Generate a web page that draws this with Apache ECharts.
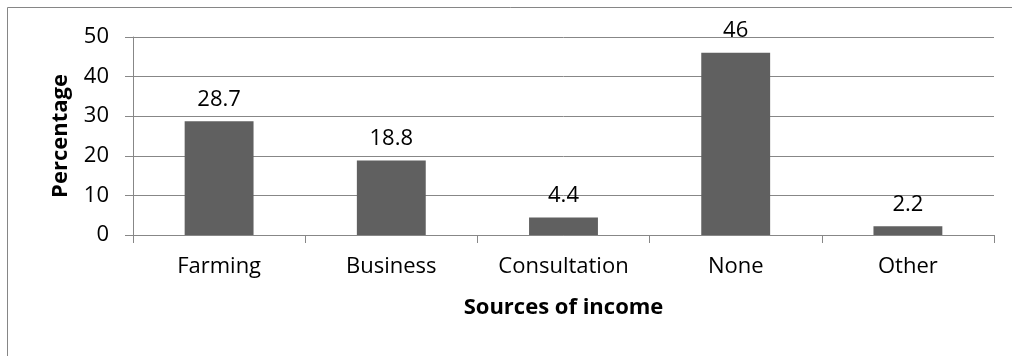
<!DOCTYPE html>
<html>
<head>
<meta charset="utf-8">
<script src="https://cdn.jsdelivr.net/npm/echarts@6/dist/echarts.min.js"></script>
<style>
  html, body { margin: 0; padding: 0; background: #fff; }
  #chart { width: 1012px; height: 356px; }
</style>
</head>
<body>
<div id="chart"></div>
<script>
var categories = ['Farming', 'Business', 'Consultation', 'None', 'Other'];
var percentages = [28.7, 18.8, 4.4, 46, 2.2];
var yTicks = { min: 0, max: 50, interval: 10 };

var font = '"Open Sans", "Liberation Sans", sans-serif';
var gridColor = '#878787';
var barColor = '#606060';

var chart = echarts.init(document.getElementById('chart'), null, { renderer: 'canvas' });
chart.setOption({
  animation: false,
  textStyle: { fontFamily: font, color: '#000' },
  graphic: [{
    type: 'rect',
    shape: { x: 7.5, y: 7.5, width: 1020, height: 380 },
    style: { fill: 'none', stroke: '#868686', lineWidth: 1 },
    silent: true
  }],
  grid: { left: 133, right: 18, top: 37, bottom: 121 },
  xAxis: {
    type: 'category',
    data: categories,
    name: 'Sources of income',
    nameLocation: 'middle',
    nameGap: 62,
    nameTextStyle: { fontFamily: font, fontSize: 22, fontWeight: 'bold', color: '#000' },
    axisLine: { lineStyle: { color: gridColor, width: 1 } },
    axisTick: { show: true, length: 8, lineStyle: { color: gridColor } },
    axisLabel: { fontFamily: font, fontSize: 22, color: '#000', margin: 21, interval: 0 }
  },
  yAxis: {
    type: 'value',
    min: yTicks.min,
    max: yTicks.max,
    interval: yTicks.interval,
    name: 'Percentage',
    nameLocation: 'middle',
    nameGap: 61,
    nameTextStyle: { fontFamily: font, fontSize: 22, fontWeight: 'bold', color: '#000' },
    axisLine: { show: true, lineStyle: { color: gridColor, width: 1 } },
    axisTick: { show: true, length: 8, lineStyle: { color: gridColor } },
    axisLabel: { fontFamily: font, fontSize: 22, color: '#000', margin: 24 },
    splitLine: { lineStyle: { color: gridColor, width: 1 } }
  },
  series: [{
    type: 'bar',
    data: percentages,
    barWidth: '40%',
    itemStyle: { color: barColor },
    label: {
      show: true,
      position: 'top',
      distance: 11,
      fontFamily: font,
      fontSize: 22,
      color: '#000'
    }
  }]
});
</script>
</body>
</html>
